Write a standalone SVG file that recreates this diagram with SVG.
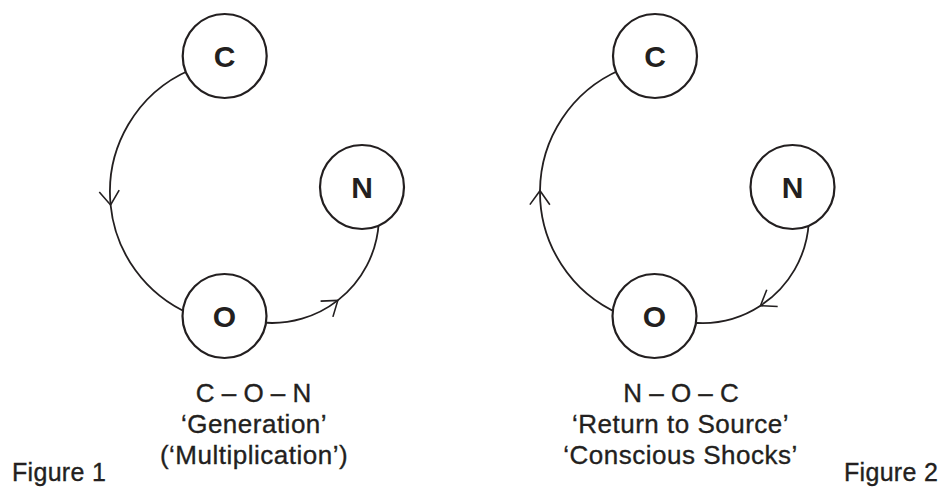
<svg xmlns="http://www.w3.org/2000/svg" width="946" height="488" viewBox="0 0 946 488">
  <style>
    .node circle { fill: #ffffff; stroke: #231f20; stroke-width: 2.2; }
    .node text { font-family: "Liberation Sans", Arial, sans-serif; font-weight: bold; font-size: 30px; fill: #231f20; text-anchor: middle; }
    .conn { fill: none; stroke: #231f20; stroke-width: 1.8; marker-mid: url(#chev); }
    .cap { font-family: "Liberation Sans", Arial, sans-serif; font-size: 26px; fill: #231f20; stroke: #231f20; stroke-width: 0.35; text-anchor: middle; }
    .cap .q { letter-spacing: 0.5px; }
    .fig { font-family: "Liberation Sans", Arial, sans-serif; font-size: 25px; fill: #231f20; stroke: #231f20; stroke-width: 0.35; letter-spacing: 0.3px; }
  </style>
  <defs>
    <!-- open chevron placed on the middle vertex of each connector -->
    <marker id="chev" markerUnits="userSpaceOnUse" orient="auto" refX="0" refY="0"
            markerWidth="40" markerHeight="40" viewBox="-20 -20 40 40" overflow="visible">
      <path d="M-14,-10 L0,0 L-14,10" fill="none" stroke="#231f20" stroke-width="1.6"/>
    </marker>
  </defs>

  <rect width="946" height="488" fill="#ffffff"/>

  <!-- connectors (drawn first; node discs cover the ends) -->
  <g id="connectors">
    <!-- Figure 1: C to O, O to N -->
    <path id="f1-c-o" class="conn" d="M190,70 A133,133 0 0,0 110.6,205 A133,133 0 0,0 190,314"/>
    <path id="f1-o-n" class="conn" d="M262,322.5 A107,107 0 0,0 337.8,300.4 A107,107 0 0,0 378.8,222"/>
    <!-- Figure 2: N to O, O to C -->
    <path id="f2-n-o" class="conn" d="M808.8,222 A107,107 0 0,1 760.5,305.7 A107,107 0 0,1 692,322.5"/>
    <path id="f2-o-c" class="conn" d="M620,314 A133,133 0 0,1 540,190.7 A133,133 0 0,1 620,70"/>
  </g>

  <!-- Figure 1 nodes -->
  <g id="f1-C" class="node"><circle cx="224.7" cy="56" r="42"/><text x="224.7" y="66.8">C</text></g>
  <g id="f1-N" class="node"><circle cx="362" cy="187" r="42"/><text x="362" y="197.8">N</text></g>
  <g id="f1-O" class="node"><circle cx="224.5" cy="316" r="42"/><text x="224.5" y="326.8">O</text></g>

  <!-- Figure 2 nodes -->
  <g id="f2-C" class="node"><circle cx="655" cy="56" r="42"/><text x="655" y="66.8">C</text></g>
  <g id="f2-N" class="node"><circle cx="792.5" cy="187" r="42"/><text x="792.5" y="197.8">N</text></g>
  <g id="f2-O" class="node"><circle cx="654.5" cy="316" r="42"/><text x="654.5" y="326.8">O</text></g>

  <!-- captions -->
  <g id="f1-caption" class="cap">
    <text x="253.5" y="401.5">C – O – N</text>
    <text class="q" x="254" y="432.5">‘Generation’</text>
    <text class="q" x="254" y="463.5">(‘Multiplication’)</text>
  </g>
  <g id="f2-caption" class="cap">
    <text x="681" y="401.5">N – O – C</text>
    <text class="q" x="680.5" y="432.5">‘Return to Source’</text>
    <text class="q" x="680.5" y="463.5">‘Conscious Shocks’</text>
  </g>

  <text id="fig1-label" class="fig" x="12" y="481">Figure 1</text>
  <text id="fig2-label" class="fig" x="844" y="481">Figure 2</text>
</svg>
